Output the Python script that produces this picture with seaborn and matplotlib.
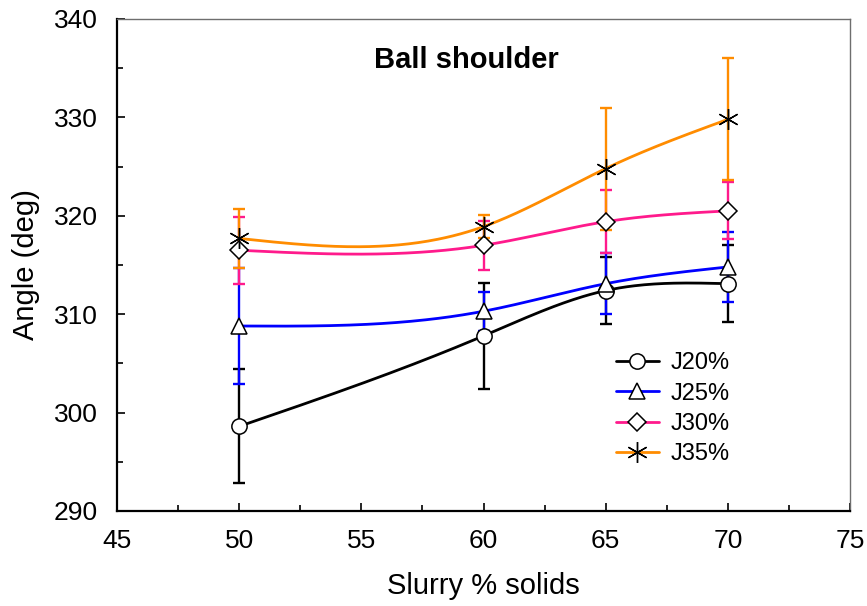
import numpy as np
import pandas as pd
import matplotlib
matplotlib.use("Agg")
import matplotlib.pyplot as plt
from matplotlib.lines import Line2D
from matplotlib.ticker import MultipleLocator
import seaborn as sns

# Slurry solids (%) and mean shoulder angles (deg) with error half-widths
solids = [50, 60, 65, 70]
j20 = [298.6, 307.8, 312.4, 313.1]
j20_err = [5.8, 5.4, 3.4, 3.9]
j25 = [308.8, 310.3, 313.1, 314.8]
j25_err = [5.9, 2.0, 3.1, 3.6]
j30 = [316.5, 317.0, 319.4, 320.5]
j30_err = [3.4, 2.5, 3.2, 2.9]
j35 = [317.7, 318.9, 324.8, 329.8]
j35_err = [3.0, 1.2, 6.2, 6.2]
series_names = ["J20%", "J25%", "J30%", "J35%"]


def natural_spline(x, y, n=200):
    """Smooth curve through the points (natural cubic spline)."""
    x = np.asarray(x, float)
    y = np.asarray(y, float)
    k = len(x)
    h = np.diff(x)
    A = np.zeros((k, k))
    b = np.zeros(k)
    A[0, 0] = A[-1, -1] = 1.0
    for i in range(1, k - 1):
        A[i, i - 1] = h[i - 1]
        A[i, i] = 2 * (h[i - 1] + h[i])
        A[i, i + 1] = h[i]
        b[i] = 6 * ((y[i + 1] - y[i]) / h[i] - (y[i] - y[i - 1]) / h[i - 1])
    M = np.linalg.solve(A, b)
    xs = np.linspace(x[0], x[-1], n)
    idx = np.clip(np.searchsorted(x, xs) - 1, 0, k - 2)
    x0, x1 = x[idx], x[idx + 1]
    hh = x1 - x0
    t0 = x1 - xs
    t1 = xs - x0
    ys = (M[idx] * t0 ** 3 / (6 * hh) + M[idx + 1] * t1 ** 3 / (6 * hh)
          + (y[idx] / hh - M[idx] * hh / 6) * t0
          + (y[idx + 1] / hh - M[idx + 1] * hh / 6) * t1)
    return xs, ys


values = [j20, j25, j30, j35]
errors = [j20_err, j25_err, j30_err, j35_err]
colors = ["#000000", "#0000FF", "#FF1A8C", "#FF8C00"]
markers = ["o", "^", "D", (6, 2, 0)]
msizes = [11, 12, 9.5, 15]
mews = [1.1, 1.1, 1.1, 1.0]

sns.set_theme(style="white")
plt.rcParams["font.family"] = ["Liberation Sans", "DejaVu Sans"]
plt.rcParams.update({"text.color": "black", "axes.labelcolor": "black",
                     "xtick.color": "black", "ytick.color": "black"})

fig = plt.figure(figsize=(8.67, 6.06), dpi=100)
ax = fig.add_axes([117 / 867, 95 / 606, 733 / 867, 492 / 606])

# smooth connecting curves
frames = []
for name, v in zip(series_names, values):
    xs, ys = natural_spline(solids, v)
    frames.append(pd.DataFrame({"solids": xs, "angle": ys, "series": name}))
curves = pd.concat(frames, ignore_index=True)
sns.lineplot(data=curves, x="solids", y="angle", hue="series",
             hue_order=series_names, palette=colors, sort=False,
             estimator=None, linewidth=2.0, legend=False, ax=ax, zorder=2)

# error bars and markers
for v, e, c in zip(values, errors, colors):
    ax.errorbar(solids, v, yerr=e, fmt="none", ecolor=c, elinewidth=1.7,
                capsize=4.5, capthick=1.7, zorder=3)
for v, m, ms, mw in zip(values, markers, msizes, mews):
    ax.plot(solids, v, linestyle="none", marker=m, markersize=ms,
            markerfacecolor="white" if m != (6, 2, 0) else "none",
            markeredgecolor="black", markeredgewidth=mw, zorder=4)

ax.set_xlim(45, 75)
ax.set_ylim(290, 340)
ax.xaxis.set_major_locator(MultipleLocator(5))
ax.xaxis.set_minor_locator(MultipleLocator(2.5))
ax.yaxis.set_major_locator(MultipleLocator(10))
ax.yaxis.set_minor_locator(MultipleLocator(5))
ax.tick_params(which="both", direction="in", top=False, right=False,
               left=True, bottom=True, color="black", width=1.2)
ax.tick_params(which="major", length=6, labelsize=19)
ax.tick_params(axis="y", which="major", pad=14)
ax.tick_params(axis="x", which="major", pad=13)
ax.tick_params(which="minor", length=4)

for side in ["left", "bottom"]:
    ax.spines[side].set_color("black")
    ax.spines[side].set_linewidth(1.6)
for side in ["top", "right"]:
    ax.spines[side].set_color("#6e6e6e")
    ax.spines[side].set_linewidth(1.0)

ax.set_xlabel("Slurry % solids", fontsize=21, labelpad=14)
ax.set_ylabel("Angle (deg)", fontsize=21, labelpad=10)
ax.text(0.476, 0.917, "Ball shoulder", transform=ax.transAxes,
        ha="center", va="center", fontsize=21, fontweight="bold")

handles = [Line2D([0], [0], color=c, linewidth=2.0, marker=m, markersize=ms,
                  markerfacecolor="white" if m != (6, 2, 0) else "none",
                  markeredgecolor="black", markeredgewidth=mw)
           for c, m, ms, mw in zip(colors, markers, msizes, mews)]
ax.legend(handles, series_names, loc="upper left",
          bbox_to_anchor=(616 / 867, 1 - 352 / 606),
          bbox_transform=fig.transFigure, frameon=False, fontsize=17,
          handlelength=1.8, labelspacing=0.36, handletextpad=0.5,
          borderpad=0, borderaxespad=0)

fig.savefig("out.png", dpi=100, facecolor="white")
